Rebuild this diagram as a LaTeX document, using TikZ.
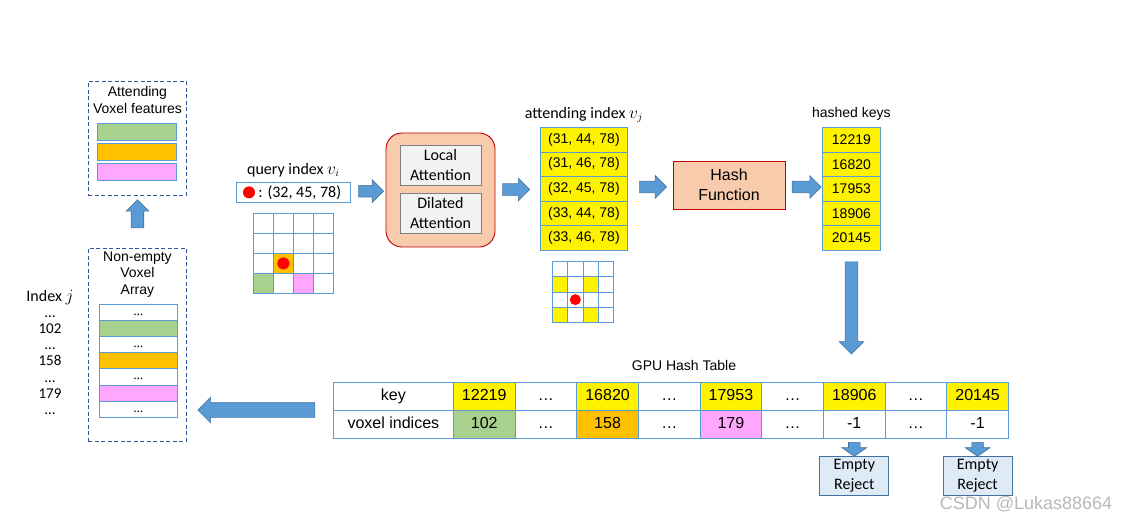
\documentclass[tikz,border=0pt]{standalone}
\usepackage{fontspec}
\setmainfont{Liberation Sans}
\newfontfamily\calib{Carlito}
\usetikzlibrary{positioning, calc, shapes.arrows}

\definecolor{arrfill}{RGB}{91,155,213}
\definecolor{arrdraw}{RGB}{65,113,156}
\definecolor{celldraw}{RGB}{91,155,213}
\definecolor{dashdraw}{RGB}{47,85,151}
\definecolor{attfill}{RGB}{248,203,173}
\definecolor{attdraw}{RGB}{192,0,0}
\definecolor{subfill}{RGB}{242,242,242}
\definecolor{subdraw}{RGB}{127,127,127}
\definecolor{vgreen}{RGB}{169,209,142}
\definecolor{vorange}{RGB}{255,192,0}
\definecolor{vpink}{RGB}{255,166,255}
\definecolor{rejfill}{RGB}{222,235,247}

\begin{document}
\begin{tikzpicture}[x=1pt,y=-1pt,inner sep=0pt,align=center,
	ar/.style 2 args={font=\fontsize{#1}{#2}\selectfont},
	ca/.style 2 args={font=\calib\fontsize{#1}{#2}\selectfont},
	cell/.style={draw=celldraw,line width=0.8pt,anchor=north west},
	bar/.style={cell,fill=#1,minimum width=79,minimum height=17},
	vrow/.style={cell,fill=#1,minimum width=78,minimum height=16.1,ca={13}{16},text height=7pt,text depth=1pt},
	gcell/.style={cell,minimum size=#1},
	ycell/.style={cell,fill=yellow,minimum height=24.6,ar={14}{17}},
	tcell/.style={cell,fill=#1,minimum height=28,ar={16}{19},text height=12pt,text depth=3pt},
	dbox/.style={draw=dashdraw,line width=0.9pt,dash pattern=on 4pt off 2.5pt,anchor=north west,minimum width=98},
	subbox/.style={draw=subdraw,fill=subfill,line width=0.8pt,minimum width=81,minimum height=40,ca={16}{20}},
	redbox/.style={draw=attdraw,fill=attfill,line width=0.9pt},
	rejbox/.style={draw=arrdraw,fill=rejfill,line width=0.8pt,minimum width=69,minimum height=39,ca={16}{20}},
	dot/.style={circle,fill=red,minimum size=#1},
	blk/.style={single arrow,draw=arrdraw,fill=arrfill,line width=0.6pt,minimum width=0pt,inner ysep=5.5pt,single arrow head extend=5.5pt,minimum height=#1},
	vblk/.style={blk=#1,inner ysep=0pt,inner xsep=6pt,single arrow head extend=6pt},
	]
	\useasboundingbox (0,0) rectangle (1132,518);

	% attending voxel features
	\node[dbox,minimum height=114] (feat) at (88,81) {};
	\node[ar={14}{17},below=5pt of feat.north] (feattxt) {Attending\\Voxel features};
	\foreach \f/\y [count=\i] in {vgreen/123,vorange/143,vpink/163}
		\node[bar=\f] (bar\i) at (97,\y) {};

	% non-empty voxel array
	\node[dbox,minimum height=193] (vox) at (88,248) {};
	\node[ar={14}{16.5},below=3.5pt of vox.north] (voxtxt) {Non-empty\\Voxel\\Array};
	\foreach \f/\t [count=\i] in {white/\ldots,vgreen/,white/\ldots,vorange/,white/\ldots,vpink/,white/\ldots}
		\node[vrow=\f] (row\i) at (99,{304+16.1*(\i-1)}) {\t};

	% index j
	\node[ca={16}{18},anchor=base] (idx) at (50,302) {Index $j$};
	\foreach \t [count=\i] in {\ldots,102,\ldots,158,\ldots,179,\ldots}
		\node[ca={15}{18},anchor=base] (idx\i) at (50,{318+16*(\i-1)}) {\t};

	% query index
	\node[cell,minimum width=114,minimum height=20] (qbox) at (236,182) {};
	\node[dot=12] (qdot) at ($(qbox.west)+(13,0)$) {};
	\node[ca={16}{18},right=3pt of qdot] (qtxt) {: (32, 45, 78)};
	\node[ca={16}{18},above=5pt of qbox] (qlab) {query index $v_i$};
	\foreach \r/\c/\f in {2/1/vorange,3/0/vgreen,3/2/vpink}
		\fill[\f] ({253+20*\c},{213+20*\r}) rectangle +(20,20);
	\foreach \r in {0,...,3}
		\foreach \c in {0,...,3}
			\node[gcell=20] (q\r\c) at ({253+20*\c},{213+20*\r}) {};
	\node[dot=12] (qgdot) at (q21) {};

	% attention
	\node[redbox,rounded corners=16pt,minimum width=109,minimum height=114] (att) at (440.5,190) {};
	\node[subbox] (loc) at (440.5,165) {Local\\Attention};
	\node[subbox] (dil) at (440.5,213) {Dilated\\Attention};

	% attending index
	\foreach \t [count=\i] in {{(31, 44, 78)},{(31, 46, 78)},{(32, 45, 78)},{(33, 44, 78)},{(33, 46, 78)}}
		\node[ycell,minimum width=87] (ai\i) at (540,{127+24.6*(\i-1)}) {\t};
	\node[ca={16}{18},above=4pt of ai1] (ailab) {attending index $v_j$};
	\foreach \r/\c in {1/0,1/2,3/0,3/2}
		\fill[yellow] ({552+15.3*\c},{261+15.3*\r}) rectangle +(15.3,15.3);
	\foreach \r in {0,...,3}
		\foreach \c in {0,...,3}
			\node[gcell=15.3] (a\r\c) at ({552+15.3*\c},{261+15.3*\r}) {};
	\node[dot=11] (agdot) at (a21) {};

	% hash function and keys
	\node[redbox,minimum width=112,minimum height=48,ar={16}{20}] (hash) at (729,185) {Hash\\Function};
	\foreach \t [count=\i] in {12219,16820,17953,18906,20145}
		\node[ycell,minimum width=58] (hk\i) at (822,{127+24.6*(\i-1)}) {\t};
	\node[ar={14}{17},above=6pt of hk1] (hklab) {hashed keys};

	% gpu hash table
	\node[ar={14}{17}] (tlab) at (684,365) {GPU Hash Table};
	\node[tcell=white,minimum width=120] (kl) at (333,382) {key};
	\node[tcell=white,minimum width=120] (vl) at (333,410) {voxel indices};
	\foreach \k/\v/\kf/\vf [count=\i] in {12219/102/yellow/vgreen,…/…/white/white,16820/158/yellow/vorange,…/…/white/white,17953/179/yellow/vpink,…/…/white/white,18906/-1/yellow/white,…/…/white/white,20145/-1/yellow/white}
	{
		\node[tcell=\kf,minimum width=61.67] (k\i) at ({453+61.67*(\i-1)},382) {\k};
		\node[tcell=\vf,minimum width=61.67] (v\i) at ({453+61.67*(\i-1)},410) {\v};
	}
	\node[rejbox,below=17pt of v7] (rej1) {Empty\\Reject};
	\node[rejbox,below=17pt of v9] (rej2) {Empty\\Reject};

	% block arrows
	\node[blk=25] (ar1) at ($(qbox.east)!0.5!(att.west)$) {};
	\node[blk=27] (ar2) at ($(att.east)!0.4!(ai3.west)$) {};
	\node[blk=27] (ar3) at ($(ai3.east)!0.5!(hash.west)$) {};
	\node[blk=29] (ar4) at ($(hash.east)!0.5!(hk3.west)$) {};
	\node[vblk=92,shape border rotate=270] (ar5) at ($(hk5.south)+(0,54)$) {};
	\node[blk=117,shape border rotate=180,inner ysep=7pt] (ar6) at ($(vox.east|-vl.north west)!0.5!(vl.north west)$) {};
	\node[vblk=28,shape border rotate=90,single arrow head extend=5pt] (ar7) at ($(vox.north)+(0,-31)$) {};
	\node[vblk=14,shape border rotate=270,inner xsep=5.5pt,single arrow head extend=6.5pt,single arrow tip angle=110] (ar8) at ($(v7.south)!0.5!(rej1.north)$) {};
	\node[vblk=14,shape border rotate=270,inner xsep=5.5pt,single arrow head extend=6.5pt,single arrow tip angle=110] (ar9) at ($(v9.south)!0.5!(rej2.north)$) {};

	\node[ar={18}{20},text=black!28] (wm) at (1026,504) {CSDN @Lukas88664};
\end{tikzpicture}
\end{document}
